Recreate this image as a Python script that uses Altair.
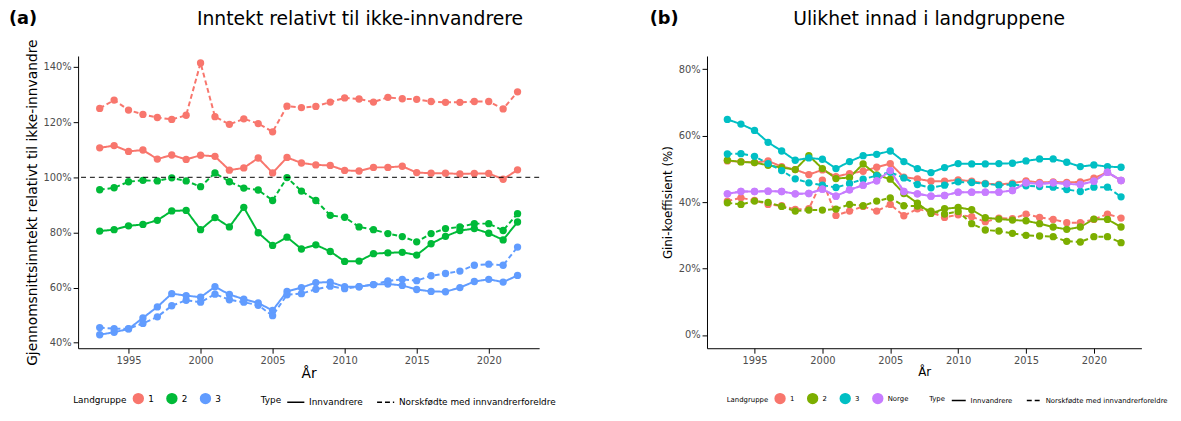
import pandas as pd
import altair as alt

YEARS = list(range(1993, 2023))

# (a) Inntekt relativt til ikke-innvandrere, prosent
A1_INNV = [110.7, 111.5, 109.4, 109.9, 106.6, 108.1, 106.5, 108.0, 107.6, 102.6,
           103.4, 107.0, 101.6, 107.2, 105.2, 104.5, 104.3, 102.5, 102.3, 103.6,
           103.6, 104.0, 101.7, 101.5, 101.5, 101.2, 101.4, 101.4, 99.3, 102.7]
A1_NORSK = [125.0, 128.0, 124.4, 122.8, 121.7, 121.0, 122.5, 141.5, 122.0, 119.2,
            121.2, 119.5, 116.5, 125.8, 125.3, 125.7, 127.3, 128.8, 128.4, 127.3,
            129.0, 128.5, 128.3, 127.5, 127.2, 127.2, 127.5, 127.5, 124.8, 131.0]
A2_INNV = [80.5, 81.0, 82.4, 82.9, 84.4, 87.8, 88.0, 81.0, 85.4, 82.0,
           89.1, 79.9, 75.3, 78.3, 74.0, 75.5, 73.1, 69.5, 69.6, 72.3,
           72.6, 72.8, 71.8, 75.9, 78.6, 80.7, 81.4, 79.7, 77.3, 83.8]
A2_NORSK = [95.5, 96.2, 98.4, 98.9, 98.7, 99.8, 98.7, 96.6, 101.6, 98.4,
            96.1, 95.4, 91.6, 99.9, 95.0, 91.6, 86.2, 85.5, 82.0, 81.0,
            79.6, 78.5, 76.6, 79.6, 81.4, 82.0, 83.2, 83.2, 80.7, 86.8]
A3_INNV = [42.9, 43.8, 45.0, 49.0, 53.0, 57.8, 57.1, 56.5, 60.3, 57.5,
           55.8, 54.4, 51.7, 58.6, 60.0, 61.8, 62.0, 60.3, 60.3, 61.1,
           61.3, 60.8, 59.3, 58.6, 58.5, 60.0, 62.2, 63.0, 62.0, 64.4]
A3_NORSK = [45.5, 45.1, 45.1, 47.0, 49.4, 53.4, 55.4, 54.7, 57.6, 55.6,
            54.7, 53.6, 49.8, 57.4, 57.8, 59.4, 60.5, 59.6, 60.3, 61.1,
            62.4, 63.0, 62.5, 64.3, 65.1, 66.0, 68.1, 68.5, 68.1, 74.7]

# (b) Gini-koeffisient, prosent
B1_INNV = [52.4, 52.2, 51.9, 52.4, 50.7, 49.8, 48.3, 49.7, 47.7, 48.6,
           49.3, 50.5, 51.6, 47.5, 47.0, 46.3, 46.3, 46.7, 46.3, 45.6,
           45.3, 45.7, 46.4, 45.9, 46.1, 45.9, 46.1, 47.2, 49.0, 46.5]
B1_NORSK = [40.3, 41.3, 40.5, 39.3, 38.9, 37.8, 38.0, 46.6, 36.0, 37.3,
            38.7, 37.3, 39.3, 35.9, 38.0, 36.9, 35.4, 36.2, 35.6, 34.1,
            35.2, 35.0, 36.4, 35.4, 34.8, 33.8, 33.8, 34.8, 36.4, 35.2]
B2_INNV = [52.6, 52.1, 51.9, 51.1, 50.4, 49.8, 54.0, 50.1, 47.1, 47.4,
           51.5, 48.2, 46.9, 42.6, 39.7, 36.6, 38.0, 38.4, 37.7, 35.3,
           34.9, 34.6, 34.4, 33.5, 32.5, 31.8, 32.5, 34.9, 34.8, 32.5]
B2_NORSK = [39.8, 39.3, 40.3, 39.9, 38.7, 37.3, 37.6, 37.6, 37.9, 39.3,
            38.9, 40.3, 41.3, 38.9, 38.8, 37.3, 36.4, 37.2, 33.5, 31.6,
            31.3, 30.6, 30.0, 29.8, 29.6, 28.2, 28.0, 29.6, 29.6, 27.8]
B3_INNV = [64.9, 63.5, 61.6, 58.0, 55.4, 52.6, 53.3, 52.9, 50.1, 52.2,
           54.0, 54.4, 55.4, 52.2, 50.1, 48.9, 50.4, 51.6, 51.5, 51.5,
           51.6, 51.7, 52.4, 53.0, 53.0, 52.0, 50.7, 51.2, 50.7, 50.5]
B3_NORSK = [54.5, 54.6, 53.8, 51.6, 49.5, 47.0, 45.8, 45.1, 44.4, 45.6,
            46.9, 48.0, 49.0, 47.3, 45.3, 44.3, 45.1, 46.1, 45.9, 45.5,
            45.1, 45.3, 44.9, 44.7, 44.5, 43.8, 43.2, 44.5, 44.5, 41.6]
BN = [42.5, 43.2, 43.2, 43.3, 43.2, 42.5, 42.6, 43.9, 41.8, 43.7,
      45.1, 46.4, 49.5, 43.2, 42.5, 41.8, 42.0, 43.0, 43.0, 43.0,
      43.0, 43.5, 45.8, 45.5, 45.8, 45.5, 45.3, 46.3, 49.0, 46.5]

TYPES = ["Innvandrere", "Norskfødte med innvandrerforeldre"]


def frame(series):
    rows = []
    for group, typ, vals in series:
        for y, v in zip(YEARS, vals):
            rows.append({"År": y, "Landgruppe": group, "Type": typ, "verdi": v / 100})
    return pd.DataFrame(rows)


df_a = frame([
    ("1", TYPES[0], A1_INNV), ("1", TYPES[1], A1_NORSK),
    ("2", TYPES[0], A2_INNV), ("2", TYPES[1], A2_NORSK),
    ("3", TYPES[0], A3_INNV), ("3", TYPES[1], A3_NORSK),
])
df_b = frame([
    ("1", TYPES[0], B1_INNV), ("1", TYPES[1], B1_NORSK),
    ("2", TYPES[0], B2_INNV), ("2", TYPES[1], B2_NORSK),
    ("3", TYPES[0], B3_INNV), ("3", TYPES[1], B3_NORSK),
    ("Norge", TYPES[0], BN), ("Norge", TYPES[1], BN),
])

H = 296


def panel(df, colors, ydom, yvals, ytitle, title, tag, big, leg_x, width, title_dx):
    fs = 9 if big else 7
    tfs = 14 if big else 12
    x_enc = alt.X("År:Q", title="År", scale=alt.Scale(domain=[1991.5, 2023.5], nice=False),
                  axis=alt.Axis(values=[1995, 2000, 2005, 2010, 2015, 2020], format="d",
                                grid=False, titleFontSize=tfs, titlePadding=2))
    color = alt.Color("Landgruppe:N", scale=alt.Scale(range=colors),
                      legend=alt.Legend(orient="none", direction="horizontal",
                                        legendX=leg_x[0], legendY=H + 45,
                                        labelFontSize=fs, titleFontSize=fs,
                                        titleOrient="left", symbolType="circle"))
    dash = alt.StrokeDash("Type:N", scale=alt.Scale(domain=TYPES, range=[[1, 0], [5, 3]]),
                          legend=alt.Legend(orient="none", direction="horizontal",
                                            legendX=leg_x[1], legendY=H + 45,
                                            labelFontSize=fs, titleFontSize=fs,
                                            labelLimit=400, titleOrient="left",
                                            symbolStrokeColor="black",
                                            symbolSize=300 if big else 200))
    y_enc = alt.Y("verdi:Q", title=ytitle, scale=alt.Scale(domain=ydom, nice=False),
                  axis=alt.Axis(values=yvals, format=".0%", grid=False, titleFontSize=tfs))
    base = alt.Chart(df).encode(x=x_enc, y=y_enc, color=color,
                                detail=["Landgruppe:N", "Type:N"])
    lines = base.mark_line(strokeWidth=2).encode(strokeDash=dash)
    pts = base.mark_circle(size=55, opacity=1)
    lbl = alt.Chart(pd.DataFrame({"t": [tag]})).mark_text(
        fontSize=18, fontWeight="bold", align="left", baseline="middle", font="DejaVu Sans"
    ).encode(text="t:N", x=alt.value(-70 if big else -58), y=alt.value(-37))
    ttl = alt.Chart(pd.DataFrame({"t": [title]})).mark_text(
        fontSize=19, align="center", baseline="middle", font="DejaVu Sans"
    ).encode(text="t:N", x=alt.value(width / 2 + title_dx), y=alt.value(-37))
    return (lines + pts + lbl + ttl).properties(width=width, height=H)


left = panel(df_a, ["#F8766D", "#00BA38", "#619CFF"], [0.38, 1.44],
             [0.4, 0.6, 0.8, 1.0, 1.2, 1.4], "Gjennomsnittsinntekt relativt til ikke-innvandre",
             "Inntekt relativt til ikke-innvandrere", "(a)", True, (-5, 185), 467, 52)
rule = alt.Chart(pd.DataFrame({"v": [1.0]})).mark_rule(
    strokeDash=[5, 4], color="black").encode(y="v:Q")
left = left + rule

right = panel(df_b, ["#F8766D", "#7CAE00", "#00BFC4", "#C77CFF"], [-0.04, 0.84],
              [0, 0.2, 0.4, 0.6, 0.8], "Ulikhet innad i landgruppene" and "Gini-koeffisient (%)",
              "Ulikhet innad i landgruppene", "(b)", False, (20, 225), 440, 5)

chart = alt.hconcat(left, right, spacing=95).resolve_scale(
    color="independent", strokeDash="independent", y="independent"
).configure_view(stroke=None).configure_axis(
    domainColor="black", tickColor="black", labelColor="#4d4d4d", labelFontSize=10,
    titleColor="black", titleFontWeight="normal", labelFont="DejaVu Sans", titleFont="DejaVu Sans"
).configure_legend(
    labelFont="DejaVu Sans", titleFont="DejaVu Sans", titleFontWeight="normal"
).properties(padding={"left": 1, "top": 0, "right": 5, "bottom": 5})

chart.save("out.html", embed_options={"renderer": "svg", "actions": False})
